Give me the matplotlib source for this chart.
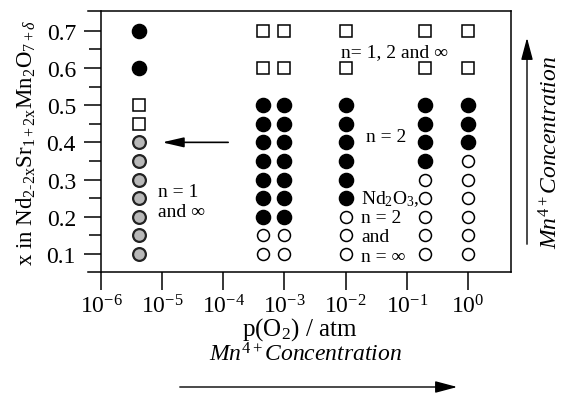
import numpy as np
import matplotlib
matplotlib.use("Agg")
import matplotlib.pyplot as plt

plt.rcParams['font.family'] = ['Liberation Serif', 'DejaVu Serif']
plt.rcParams['mathtext.fontset'] = 'custom'
plt.rcParams['mathtext.rm'] = 'Liberation Serif'
plt.rcParams['mathtext.it'] = 'Liberation Serif:italic'
plt.rcParams['mathtext.bf'] = 'Liberation Serif:bold'
plt.rcParams['axes.unicode_minus'] = False

# Oxygen partial pressures (atm) of each synthesis series
p_o2 = [4.2e-6, 4.5e-4, 1e-3, 1e-2, 0.2, 1.0]
# Compositions x probed at every pressure
x_comp = [0.1, 0.15, 0.2, 0.25, 0.3, 0.35, 0.4, 0.45, 0.5, 0.6, 0.7]
# Phase observed: g = n=1 and inf, s = n=1, 2 and inf, f = n=2, o = Nd2O3, n=2 and n=inf
phases = [
    ['g', 'g', 'g', 'g', 'g', 'g', 'g', 's', 's', 'f', 'f'],
    ['o', 'o', 'f', 'f', 'f', 'f', 'f', 'f', 'f', 's', 's'],
    ['o', 'o', 'f', 'f', 'f', 'f', 'f', 'f', 'f', 's', 's'],
    ['o', 'o', 'o', 'f', 'f', 'f', 'f', 'f', 'f', 's', 's'],
    ['o', 'o', 'o', 'o', 'o', 'f', 'f', 'f', 'f', 's', 's'],
    ['o', 'o', 'o', 'o', 'o', 'o', 'f', 'f', 'f', 's', 's'],
]
y_ticks = [0.1, 0.2, 0.3, 0.4, 0.5, 0.6, 0.7]
x_ticks = [1e-6, 1e-5, 1e-4, 1e-3, 1e-2, 1e-1, 1e0]

styles = {
    'f': dict(marker='o', ms=10.2, mfc='black', mec='black', mew=1.0),
    'o': dict(marker='o', ms=8.6, mfc='white', mec='black', mew=1.1),
    's': dict(marker='s', ms=8.6, mfc='white', mec='black', mew=1.1),
    'g': dict(marker='o', ms=9.2, mfc='#b8b8b8', mec='#222222', mew=1.6),
}

fig = plt.figure(figsize=(5.67, 4.14), dpi=100)
ax = fig.add_axes([88 / 567, 1 - 273 / 414, (511 - 88) / 567, (273 - 12) / 414])

for p, col in zip(p_o2, phases):
    for xc, ph in zip(x_comp, col):
        ax.plot([p], [xc], linestyle='none', **styles[ph])

ax.set_xscale('log')
ax.set_xlim(10 ** -6.2125, 10 ** 0.703)
ax.set_ylim(0.0516, 0.753)
ax.spines['left'].set_position(('data', 1e-6))
for s in ax.spines.values():
    s.set_linewidth(1.1)

ax.set_xticks(x_ticks)
ax.xaxis.set_minor_locator(matplotlib.ticker.NullLocator())
ax.set_yticks(y_ticks)
ax.set_yticklabels([f"{v:.1f}" for v in y_ticks])
ax.set_yticks(np.arange(0.15, 0.70, 0.1), minor=True)
ax.tick_params(axis='x', which='major', direction='out', length=13, width=1.1,
               labelsize=17, pad=3, top=False)
ax.tick_params(axis='y', which='major', direction='out', length=12, width=1.1,
               labelsize=17, pad=6, right=False)
ax.tick_params(axis='y', which='minor', direction='out', length=9, width=1.1, right=False)

ax.set_xlabel(r"p(O$_2$) / atm", fontsize=18)
ax.xaxis.set_label_coords(0.5, -0.165)
ax.set_ylabel(r"x in Nd$_{\mathregular{2\text{-}2x}}$Sr$_{\mathregular{1+2x}}$"
              r"Mn$_{\mathregular{2}}$O$_{\mathregular{7+}\delta}$", fontsize=16.5, labelpad=6)

# arrow and phase-field labels inside the axes
ax.annotate('', xy=(1.0e-5, 0.4), xytext=(1.2e-4, 0.4),
            arrowprops=dict(arrowstyle='-|>,head_length=1.3,head_width=0.3',
                            color='black', lw=1.2, shrinkA=0, shrinkB=0))
ax.text(10 ** -5.068, 0.267, "n = 1", fontsize=14, ha='left', va='center')
ax.text(10 ** -5.068, 0.214, "and \u221e", fontsize=14, ha='left', va='center')
ax.text(10 ** -1.194, 0.644, "n= 1, 2 and \u221e", fontsize=14, ha='center', va='center')
ax.text(10 ** -1.34, 0.415, "n = 2", fontsize=14, ha='center', va='center')
ax.text(10 ** -1.75, 0.249, r"Nd$_2$O$_3$,", fontsize=14, ha='left', va='center')
ax.text(10 ** -1.75, 0.198, "n = 2", fontsize=14, ha='left', va='center')
ax.text(10 ** -1.75, 0.147, "and", fontsize=14, ha='left', va='center')
ax.text(10 ** -1.75, 0.093, "n = \u221e", fontsize=14, ha='left', va='center')

# Mn4+ concentration arrows outside the axes
conc = r"$\mathit{Mn}^{\mathit{4+}}$Concentration"
fig.text(551 / 567, 1 - 152 / 414, conc, fontsize=17, style='italic',
         rotation=90, ha='center', va='center')
fig.add_artist(matplotlib.patches.FancyArrowPatch(
    (527 / 567, 1 - 248 / 414), (527 / 567, 1 - 36 / 414), transform=fig.transFigure,
    arrowstyle='-|>,head_length=4.5,head_width=1.2', color='black', lw=1.0,
    mutation_scale=3))
fig.text(306 / 567, 1 - 355 / 414, conc, fontsize=17, style='italic',
         ha='center', va='center')
fig.add_artist(matplotlib.patches.FancyArrowPatch(
    (177 / 567, 1 - 388 / 414), (460 / 567, 1 - 388 / 414), transform=fig.transFigure,
    arrowstyle='-|>,head_length=4.5,head_width=1.2', color='black', lw=1.0,
    mutation_scale=3))

fig.savefig("out.png", dpi=100)
